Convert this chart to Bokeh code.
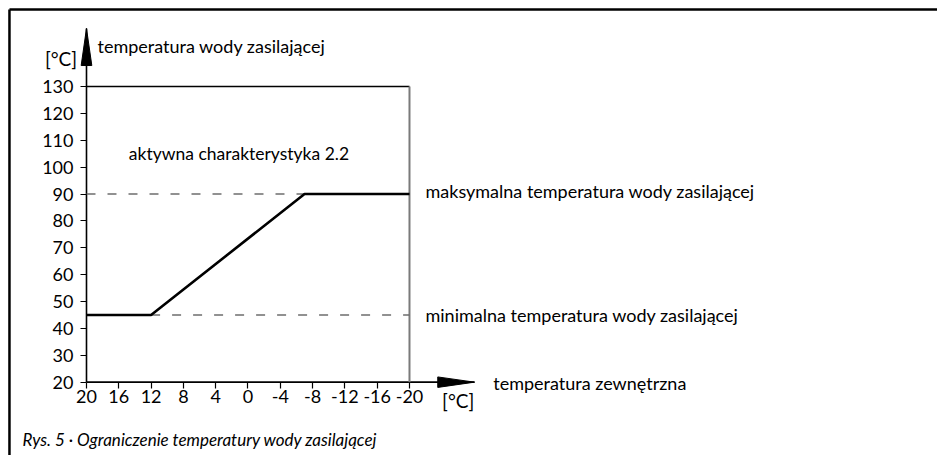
from bokeh.plotting import figure
from bokeh.models import Range1d, FixedTicker, Label
from bokeh.embed import file_html
from bokeh.resources import INLINE

# ---- data ----
curve_x = [20, 12, -7, -20]          # outdoor temperature [°C]
curve_y = [45, 45, 90, 90]           # supply water temperature [°C]
t_max = 90
t_min = 45
x_ticks = [20, 16, 12, 8, 4, 0, -4, -8, -12, -16, -20]
x_tick_labels = ["20", "16", "12", "8", "4", "0", "-4", "-8", "-12", "-16", "-20"]
y_ticks = [20, 30, 40, 50, 60, 70, 80, 90, 100, 110, 120, 130]
y_tick_labels = ["20", "30", "40", "50", "60", "70", "80", "90", "100", "110", "120", "130"]
x_lo, x_hi = 20, -20
y_lo, y_hi = 20, 130
x_arrow_tip = -28.05
y_arrow_tip = 151.6

FONT = "Lato"
W, H = 937, 455
X0, X1 = 30.65, -85.39
Y0, Y1 = -7.28, 161.99

p = figure(width=W, height=H, output_backend="svg", toolbar_location=None,
           x_range=Range1d(X0, X1), y_range=Range1d(Y0, Y1), min_border=0)
p.outline_line_color = None
p.grid.visible = False
p.background_fill_color = "white"
p.border_fill_color = "white"

for ax in (p.xaxis, p.yaxis):
    ax.axis_line_color = None
    ax.major_tick_line_color = "black"
    ax.major_tick_line_width = 1.2
    ax.major_tick_out = 6
    ax.major_tick_in = 0
    ax.minor_tick_line_color = None
    ax.major_label_text_font = FONT
    ax.major_label_text_font_size = "18px"
    ax.major_label_text_color = "black"

p.xaxis.ticker = FixedTicker(ticks=x_ticks)
p.yaxis.ticker = FixedTicker(ticks=y_ticks)
p.xaxis.major_label_overrides = dict(zip(x_ticks, x_tick_labels))
p.yaxis.major_label_overrides = dict(zip(y_ticks, y_tick_labels))
p.xaxis.fixed_location = y_lo
p.yaxis.fixed_location = x_lo
p.xaxis.major_label_standoff = 2
p.yaxis.major_label_standoff = 7

# outer frame (top and left edges)
p.line([29.54, X1], [158.65, 158.65], line_color="black", line_width=2.5)
p.line([29.54, 29.54], [158.65, Y0], line_color="black", line_width=2.5)

# axis lines
p.line([x_lo, x_arrow_tip], [y_lo, y_lo], line_color="black", line_width=1.6)
p.line([x_lo, x_lo], [y_lo, y_arrow_tip], line_color="black", line_width=1.6)
# arrow heads
p.patch([x_lo - 0.66, x_lo, x_lo + 0.66], [137.8, y_arrow_tip, 137.8], color="black")
p.patch([-23.5, x_arrow_tip, -23.5], [y_lo + 1.95, y_lo, y_lo - 1.95], color="black")

# box top and right
p.line([x_lo, x_hi], [y_hi, y_hi], line_color="black", line_width=1.4)
p.line([x_hi, x_hi], [y_lo, y_hi], line_color="#7a7a7a", line_width=2)

# dashed limits
p.line([x_lo, curve_x[2]], [t_max, t_max], line_color="#6e6e6e", line_width=1.4, line_dash="9 12")
p.line([curve_x[1], x_hi], [t_min, t_min], line_color="#6e6e6e", line_width=1.4, line_dash="9 12")

# characteristic
p.line(curve_x, curve_y, line_color="black", line_width=2.6)

def lab(text, x, y, align="left", baseline="alphabetic", xo=0, yo=0, size="18px", style="normal"):
    p.add_layout(Label(x=x, y=y, text=text, text_align=align, text_baseline=baseline,
                       x_offset=xo, y_offset=yo, text_font=FONT, text_font_size=size,
                       text_color="black", text_font_style=style))

lab("[°C]", 23.16, 140.4, align="center", baseline="middle", size="19px")
lab("temperatura wody zasilającej", 18.64, 143.65, yo=4)
lab("aktywna charakterystyka 2.2", 14.76, 103.1, yo=5, size="17.5px")
lab("maksymalna temperatura wody zasilającej", x_hi, t_max, xo=16, yo=3)
lab("minimalna temperatura wody zasilającej", x_hi, t_min, xo=16, yo=0)
lab("temperatura zewnętrzna", -30.37, y_lo, yo=-1)
lab("[°C]", -26.03, 13.2, align="center", baseline="middle", size="19px")
lab("Rys. 5 · Ograniczenie temperatury wody zasilającej", 27.93, -2.93, yo=4, style="italic", size="17px")

open("out.html", "w").write(file_html(p, INLINE))
